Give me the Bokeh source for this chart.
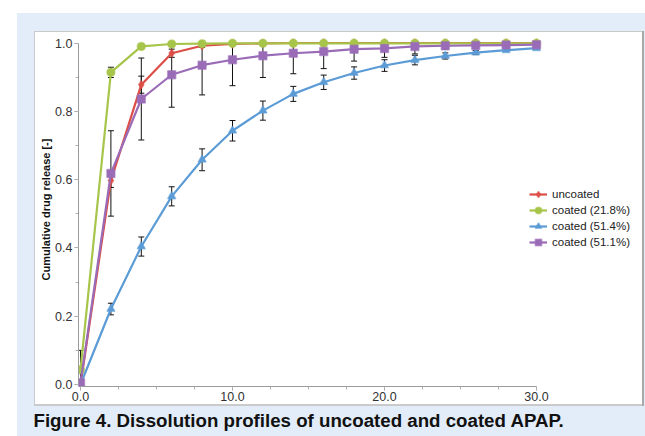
from bokeh.plotting import figure
from bokeh.models import (Range1d, FixedTicker, PrintfTickFormatter, Legend, LegendItem,
                          Whisker, TeeHead, ColumnDataSource, Title)
from bokeh.embed import file_html
from bokeh.resources import INLINE

# ---------------- data ----------------
time_min = [0, 2, 4, 6, 8, 10, 12, 14, 16, 18, 20, 22, 24, 26, 28, 30]

uncoated = [0.0, 0.597, 0.878, 0.970, 0.992, 0.997, 0.999, 1.0, 1.0, 1.0, 1.0, 1.0, 1.0, 1.0, 1.0, 1.0]
uncoated_err = [0.0, 0.02, 0.025, 0.012, 0.005, 0.003, 0.0, 0.0, 0.0, 0.0, 0.0, 0.0, 0.0, 0.0, 0.0, 0.0]

coated_218 = [0.043, 0.914, 0.990, 0.997, 0.998, 0.999, 0.999, 0.999, 0.999, 0.999, 0.999, 0.999, 0.999, 0.999, 0.999, 0.999]
coated_218_err = [0.057, 0.015, 0.005, 0.003, 0.002, 0.0, 0.0, 0.0, 0.0, 0.0, 0.0, 0.0, 0.0, 0.0, 0.0, 0.0]

coated_514 = [0.0, 0.221, 0.404, 0.551, 0.658, 0.743, 0.802, 0.851, 0.885, 0.912, 0.934, 0.950, 0.962, 0.972, 0.979, 0.985]
coated_514_err = [0.0, 0.017, 0.028, 0.028, 0.032, 0.030, 0.028, 0.022, 0.021, 0.018, 0.017, 0.014, 0.009, 0.006, 0.004, 0.004]

coated_511 = [0.005, 0.618, 0.836, 0.907, 0.935, 0.951, 0.963, 0.970, 0.975, 0.982, 0.984, 0.990, 0.992, 0.993, 0.994, 0.995]
coated_511_err = [0.0, 0.125, 0.120, 0.095, 0.087, 0.076, 0.064, 0.060, 0.050, 0.035, 0.026, 0.022, 0.010, 0.008, 0.006, 0.005]

series_labels = ["uncoated", "coated (21.8%)", "coated (51.4%)", "coated (51.1%)"]
series_values = [uncoated, coated_218, coated_514, coated_511]
series_errors = [uncoated_err, coated_218_err, coated_514_err, coated_511_err]
series_colors = ["#dc4e47", "#a7c54a", "#5b9bd6", "#9a6cb8"]
series_markers = ["diamond", "circle", "triangle", "square"]

x_ticks = [0, 10, 20, 30]
x_minor = [2.5 * i for i in range(13)]
y_ticks = [0.0, 0.2, 0.4, 0.6, 0.8, 1.0]
y_minor = [0.1 * i for i in range(11)]
release_cap = 1.0   # error bars are not drawn past complete release

caption = "Figure 4. Dissolution profiles of uncoated and coated APAP."
y_title = "Cumulative drug release [-]"

# ---------------- layout (pixels) ----------------
W, H = 645, 436
FL, FR, FT, FB = 78, 636, 32, 386          # plot frame edges
PX_X = 15.2                                 # px per minute
PX_Y = 341.5                                # px per unit release
X_ORIGIN, Y_ORIGIN = 80, 384                # where 0 sits
FONT = "Liberation Sans"

x_start = -(X_ORIGIN - FL) / PX_X
x_end = (FR - X_ORIGIN) / PX_X
y_start = -(FB - Y_ORIGIN) / PX_Y
y_end = (Y_ORIGIN - FT) / PX_Y

p = figure(width=W, height=H, output_backend="svg", toolbar_location=None,
           x_range=Range1d(x_start, x_end), y_range=Range1d(y_start, y_end),
           min_border_left=FL, min_border_right=W - FR,
           min_border_top=FT, min_border_bottom=H - FB)
p.outline_line_color = None
p.grid.visible = False
p.background_fill_color = "white"
p.border_fill_color = None
p.styles = {
    "background":
        "linear-gradient(#ffffff,#ffffff) 35px 32px / 607px 372px no-repeat, "
        "linear-gradient(#a9a9a9,#a9a9a9) 642px 31px / 2px 375px no-repeat, "
        "linear-gradient(#cacaca,#cacaca) 34px 31px / 610px 375px no-repeat, "
        "linear-gradient(#e3edf9,#e3edf9) 17px 13px / 628px 423px no-repeat, "
        "#ffffff"
}

# axes
for ax in (p.xaxis[0], p.yaxis[0]):
    ax.axis_line_color = "#9a9a9a"
    ax.major_tick_line_color = "#9a9a9a"
    ax.minor_tick_line_color = "#b0b0b0"
    ax.major_tick_in = 0
    ax.major_tick_out = 4
    ax.minor_tick_in = 0
    ax.minor_tick_out = 3
    ax.major_label_text_font = FONT
    ax.major_label_text_font_size = "12.5px"
    ax.major_label_text_color = "#333333"
    ax.formatter = PrintfTickFormatter(format="%.1f")
p.xaxis.bounds = (0, 30)
p.yaxis.bounds = (0, 1)
p.xaxis.ticker = FixedTicker(ticks=x_ticks, minor_ticks=x_minor)
p.yaxis.ticker = FixedTicker(ticks=y_ticks, minor_ticks=y_minor)
p.xaxis.major_label_standoff = 1
p.yaxis.major_label_standoff = 2
p.yaxis.axis_label = y_title
p.yaxis.axis_label_text_font = FONT
p.yaxis.axis_label_text_font_style = "bold"
p.yaxis.axis_label_text_font_size = "11px"
p.yaxis.axis_label_text_color = "#111111"
p.yaxis.axis_label_standoff = 0

items = []
for lab, vals, errs, col, mk in zip(series_labels, series_values, series_errors,
                                    series_colors, series_markers):
    src = ColumnDataSource(dict(x=time_min, y=vals))
    lr = p.line("x", "y", source=src, line_color=col, line_width=2.2)
    sr = p.scatter("x", "y", source=src, marker=mk, size=8, fill_color=col,
                   line_color=col, line_alpha=0.55, line_width=1.5)
    items.append(LegendItem(label=lab, renderers=[lr, sr]))
    keep = [i for i, e in enumerate(errs) if e > 0]
    esrc = ColumnDataSource(dict(
        x=[time_min[i] for i in keep],
        upper=[min(release_cap, vals[i] + errs[i]) for i in keep],
        lower=[vals[i] - errs[i] for i in keep]))
    p.add_layout(Whisker(base="x", upper="upper", lower="lower", source=esrc,
                         dimension="height", line_color="#111111", line_width=1,
                         upper_head=TeeHead(size=6, line_color="#111111", line_width=1),
                         lower_head=TeeHead(size=6, line_color="#111111", line_width=1)))

legend = Legend(items=items, location=(451, 136), padding=0, margin=0, spacing=0,
                glyph_width=18, glyph_height=16, label_height=16, label_standoff=5,
                label_text_font=FONT, label_text_font_size="11.5px",
                label_text_color="#222222", border_line_color=None,
                background_fill_alpha=0)
p.add_layout(legend)

p.add_layout(Title(text=caption, align="left", offset=33 - FL, standoff=9,
                   text_font=FONT, text_font_style="bold", text_font_size="18.7px",
                   text_color="#111111"), "below")

open("out.html", "w").write(file_html(p, INLINE))
